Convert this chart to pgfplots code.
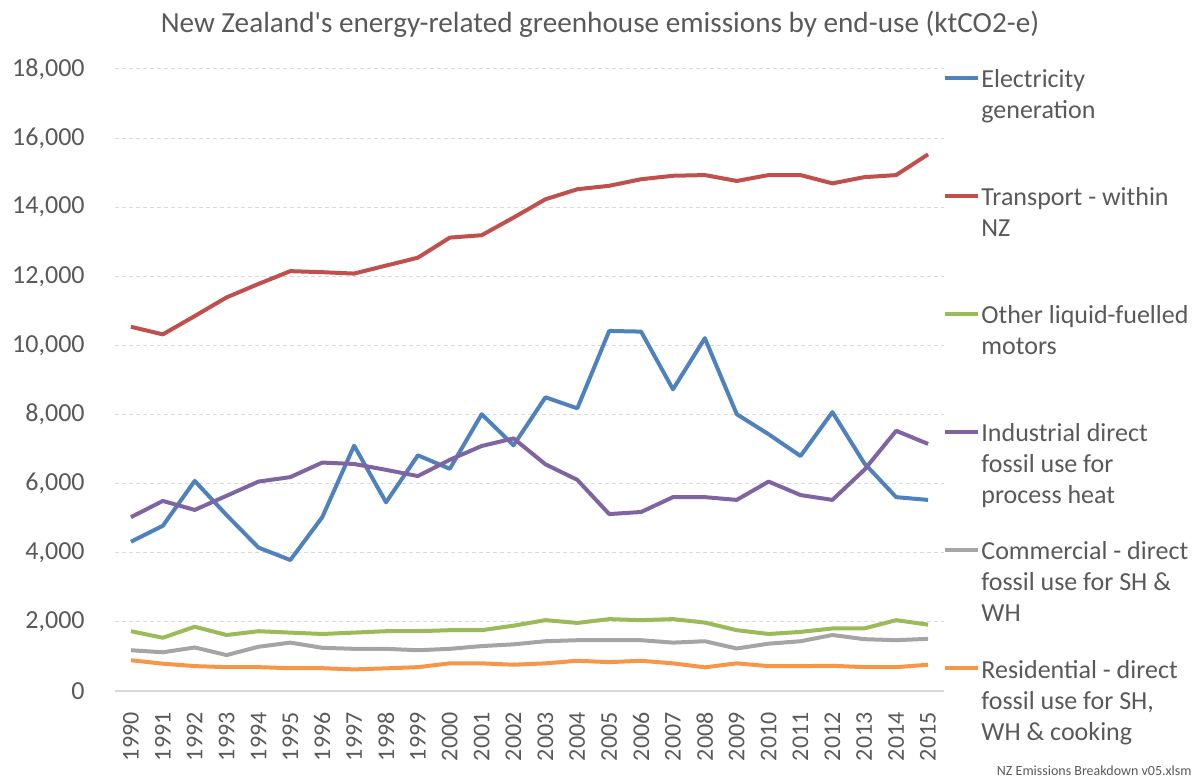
\documentclass[border=0pt]{standalone}
\usepackage{fontspec}
\setmainfont{Carlito}
\usepackage{pgfplots}
\pgfplotsset{compat=1.18}
\usepackage{pgfplotstable}
\definecolor{xlblue}{HTML}{4F81BD}
\definecolor{xlred}{HTML}{C0504D}
\definecolor{xlgreen}{HTML}{9BBB59}
\definecolor{xlpurple}{HTML}{8064A2}
\definecolor{xlgrey}{HTML}{A5A5A5}
\definecolor{xlorange}{HTML}{F79646}
\definecolor{textgray}{HTML}{595959}
\definecolor{gridgray}{HTML}{D9D9D9}

% ktCO2-e by end-use
\pgfplotstableread{
year elec  transport other industrial commercial residential
1990 4320  10540 1730 5030 1180 890
1991 4780  10320 1540 5500 1120 790
1992 6080  10850 1860 5240 1260 720
1993 5090  11390 1620 5650 1040 690
1994 4150  11780 1730 6060 1280 690
1995 3790  12150 1690 6190 1400 660
1996 5030  12120 1650 6610 1250 660
1997 7100  12080 1690 6570 1220 625
1998 5460  12310 1730 6400 1220 655
1999 6820  12540 1730 6220 1180 690
2000 6430  13120 1760 6690 1220 800
2001 8010  13190 1760 7090 1300 800
2002 7110  13700 1890 7310 1350 760
2003 8500  14230 2050 6560 1440 800
2004 8180  14520 1970 6110 1470 875
2005 10420 14620 2080 5120 1470 835
2006 10400 14810 2050 5180 1470 875
2007 8730  14910 2080 5610 1400 800
2008 10210 14930 1980 5610 1440 685
2009 8010  14760 1760 5530 1230 800
2010 7430  14930 1650 6060 1370 720
2011 6800  14930 1710 5670 1440 720
2012 8070  14690 1810 5530 1620 730
2013 6590  14870 1810 6400 1500 690
2014 5610  14930 2050 7530 1470 690
2015 5530  15530 1920 7150 1510 760
}\emis

% legend entry k (0 = top): colour, text
\newcommand{\legentry}[3]{%
  \draw[#2, line width=2bp] ([xshift=0.5bp, yshift=-4.5bp-59bp*#1]legtop) -- ++(16.5bp,0bp);
  \node[anchor=base west, inner sep=0pt, text=textgray,
    font=\fontsize{13bp}{15.5bp}\selectfont]
    at ([xshift=18.5bp, yshift=-9.5bp-59bp*#1]legtop)
    {\parbox[t]{120bp}{\raggedright #3}};
}

\begin{document}
\begin{tikzpicture}
\begin{axis}[
  at={(57.5bp,43.5bp)}, anchor=south west,
  scale only axis,
  width=414.5bp, height=311bp,
  xmin=1989.5, xmax=2015.5,
  ymin=0, ymax=18000,
  xtick={1990,...,2015},
  ytick={0,2000,...,18000},
  scaled y ticks=false,
  axis x line*=bottom, axis y line*=left,
  x axis line style={draw=gridgray, line width=0.75bp, -},
  y axis line style={draw=none},
  major tick length=0pt,
  ymajorgrids,
  grid style={draw=gridgray, line width=0.5bp, dash pattern=on 2bp off 1.5bp},
  /pgf/number format/fixed,
  /pgf/number format/1000 sep={,},
  /pgf/number format/assume math mode=true,
  yticklabel style={font=\fontsize{13bp}{15bp}\selectfont, text=textgray, inner sep=0pt},
  yticklabel shift=15bp,
  xticklabel style={rotate=90, anchor=east, font=\fontsize{12bp}{14bp}\selectfont,
    text=textgray, inner sep=0pt, /pgf/number format/1000 sep={}},
  xticklabel shift=10.5bp,
  every axis title shift=0pt,
  title={New Zealand\textquotesingle s energy-related greenhouse emissions by end-use (ktCO2-e)},
  title style={at={(0.585,1)}, anchor=base, yshift=18bp, inner sep=0pt,
    font=\fontsize{14.6bp}{17bp}\selectfont, text=textgray},
  every axis plot/.append style={line width=2bp, line join=round},
]
\addplot[xlblue] table[x=year, y=elec] {\emis};
\addplot[xlred] table[x=year, y=transport] {\emis};
\addplot[xlgreen] table[x=year, y=other] {\emis};
\addplot[xlpurple] table[x=year, y=industrial] {\emis};
\addplot[xlgrey] table[x=year, y=commercial] {\emis};
\addplot[xlorange] table[x=year, y=residential] {\emis};
\coordinate (legtop) at (rel axis cs:1,1);
\end{axis}
\legentry{0}{xlblue}{Electricity\\generation}
\legentry{1}{xlred}{Transport - within\\NZ}
\legentry{2}{xlgreen}{Other liquid-fuelled\\motors}
\legentry{3}{xlpurple}{Industrial direct\\fossil use for\\process heat}
\legentry{4}{xlgrey}{Commercial - direct\\fossil use for SH \&\\WH}
\legentry{5}{xlorange}{Residential - direct\\fossil use for SH,\\WH \& cooking}
\node[anchor=south east, inner sep=0pt, font=\fontsize{7bp}{8bp}\selectfont, text=textgray]
  at (596bp,1bp) {NZ Emissions Breakdown v05.xlsm};
\pgfresetboundingbox
\path[use as bounding box] (0,0) rectangle (600bp,389bp);
\end{tikzpicture}
\end{document}
